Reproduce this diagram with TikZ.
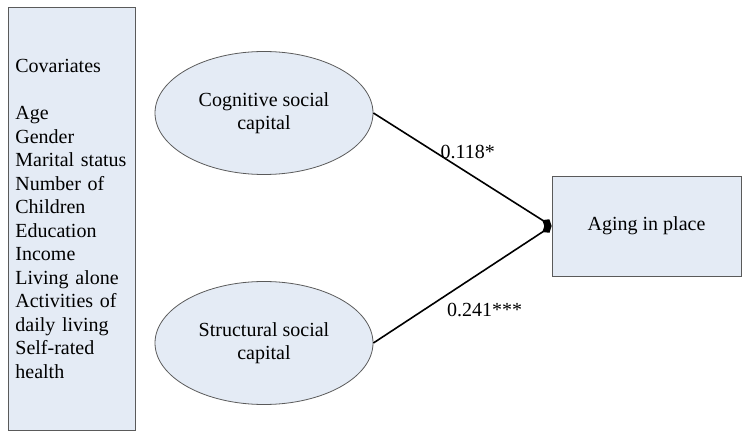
\documentclass[tikz,border=0pt]{standalone}
\usepackage{fontspec}
\setmainfont{Liberation Serif}
\usetikzlibrary{shapes.geometric,arrows.meta}
\definecolor{boxfill}{RGB}{228,235,245}
\definecolor{boxline}{RGB}{90,90,90}
\tikzset{every picture/.style={x=1bp,y=-1bp}}

\begin{document}
\begin{tikzpicture}[
    font=\fontsize{20bp}{23.5bp}\selectfont,
    latent/.style={ellipse,draw=boxline,fill=boxfill,line width=0.8bp,
      minimum width=218bp,minimum height=123bp,inner sep=0pt,align=center},
    observed/.style={rectangle,draw=boxline,fill=boxfill,line width=0.8bp},
    effect/.style={line width=1.6bp,-{Diamond[length=11bp,width=9bp]}}]
      \def\ex{264}
      \def\cy{113}
      \def\sy{343}

      \useasboundingbox (0,0) rectangle (750,439);

      % Boxes
      \node[observed,anchor=north west,minimum width=127bp,minimum height=423bp,
        text width=113bp,inner xsep=7bp,align=left] (cov) at (8,7)
        {Covariates\\[23.5bp]Age\\Gender\\Marital status\\Number of\\Children\\Education\\Income\\Living alone\\Activities of\\daily living\\Self-rated\\health};
      \node[latent] (cog) at (\ex,\cy) {Cognitive social\\capital};
      \node[latent] (str) at (\ex,\sy) {Structural social\\capital};
      \node[observed,minimum width=189bp,minimum height=100bp] (aip) at (646.5,226) {Aging in place};

      % Paths
      \draw[effect] (cog.east) -- (aip.west) node[pos=0.53,anchor=base,yshift=14bp] {0.118*};
      \draw[effect] (str.east) -- (aip.west) node[pos=0.39,anchor=base west,yshift=-19bp] {0.241***};
    \end{tikzpicture}
\end{document}
